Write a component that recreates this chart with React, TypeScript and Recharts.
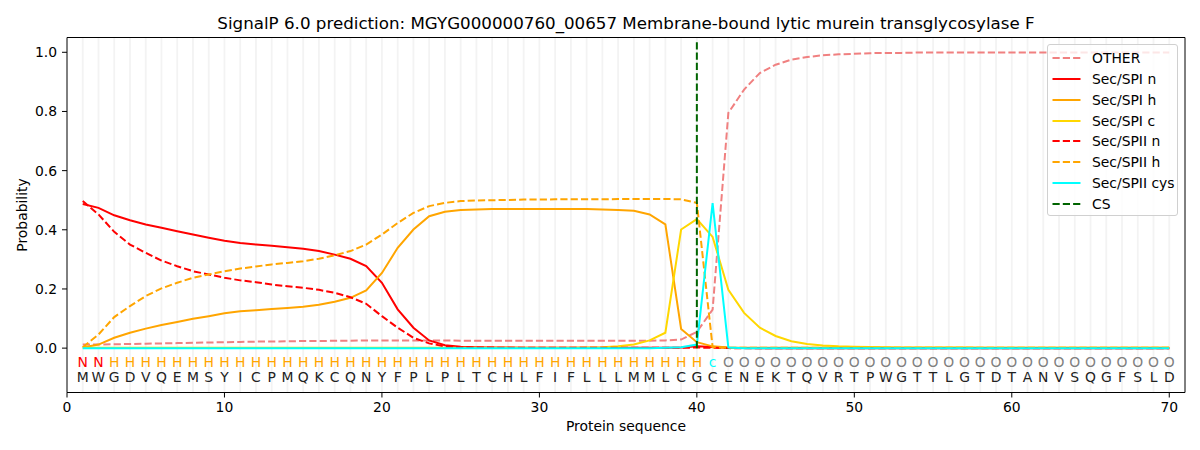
import React from 'react';
import {
  ComposedChart,
  Line,
  XAxis,
  YAxis,
  ReferenceLine,
  Scatter,
} from 'recharts';

const sequence = 'MWGDVQEMSYICPMQKCQNYFPLPLTCHLFIFLLLMMLCGCENEKTQVRTPWGTTLGTDTANVSQGFSLD'.split('');
const regionLabels = 'NNHHHHHHHHHHHHHHHHHHHHHHHHHHHHHHHHHHHHHHcOOOOOOOOOOOOOOOOOOOOOOOOOOOOO'.split('');

const otherVals = [
  0.012, 0.012, 0.013, 0.014, 0.015, 0.016, 0.017, 0.018, 0.019, 0.02,
  0.021, 0.022, 0.022, 0.023, 0.024, 0.024, 0.025, 0.025, 0.026, 0.026,
  0.026, 0.026, 0.026, 0.026, 0.025, 0.025, 0.025, 0.025, 0.025, 0.025,
  0.025, 0.025, 0.025, 0.025, 0.025, 0.025, 0.025, 0.026, 0.029, 0.055,
  0.13, 0.795, 0.874, 0.93, 0.958, 0.975, 0.984, 0.99, 0.993, 0.995,
  0.997, 0.998, 0.998, 0.999, 0.999, 0.999, 0.999, 0.999, 0.999, 0.999,
  0.999, 0.999, 0.999, 0.999, 0.999, 0.999, 0.999, 0.999, 0.999, 0.999,
];
const spiN = [
  0.487, 0.474, 0.449, 0.432, 0.418, 0.407, 0.395, 0.384, 0.373, 0.363,
  0.355, 0.35, 0.346, 0.341, 0.336, 0.328, 0.316, 0.302, 0.277, 0.221,
  0.131, 0.069, 0.026, 0.01, 0.005, 0.003, 0.002, 0.002, 0.001, 0.001,
  0.001, 0.001, 0.001, 0.001, 0.001, 0.001, 0.001, 0.001, 0.002, 0.006,
  0.004, 0.001, 0, 0, 0, 0, 0, 0, 0, 0,
  0, 0, 0, 0, 0, 0, 0, 0, 0, 0,
  0, 0, 0, 0, 0, 0, 0, 0, 0, 0,
];
const spiH = [
  0.002, 0.012, 0.035, 0.052, 0.066, 0.078, 0.088, 0.099, 0.108, 0.118,
  0.125, 0.128, 0.132, 0.136, 0.14, 0.147, 0.157, 0.17, 0.195, 0.254,
  0.339, 0.401, 0.446, 0.461, 0.467, 0.469, 0.47, 0.47, 0.47, 0.47,
  0.47, 0.47, 0.47, 0.469, 0.467, 0.464, 0.452, 0.418, 0.065, 0.02,
  0.006, 0.002, 0.001, 0.001, 0.001, 0.001, 0.001, 0.001, 0.001, 0.001,
  0.001, 0.001, 0.001, 0.001, 0.001, 0.001, 0.001, 0.001, 0.001, 0.001,
  0.001, 0.001, 0.001, 0.001, 0.001, 0.001, 0.001, 0.001, 0.001, 0.001,
];
const spiC = [
  0.001, 0.001, 0.001, 0.001, 0.001, 0.001, 0.001, 0.001, 0.001, 0.001,
  0.001, 0.001, 0.001, 0.001, 0.001, 0.001, 0.001, 0.001, 0.001, 0.001,
  0.001, 0.001, 0.001, 0.001, 0.001, 0.001, 0.001, 0.001, 0.001, 0.001,
  0.001, 0.001, 0.002, 0.003, 0.006, 0.012, 0.026, 0.052, 0.401, 0.436,
  0.376, 0.197, 0.119, 0.069, 0.041, 0.023, 0.014, 0.009, 0.006, 0.005,
  0.004, 0.003, 0.002, 0.002, 0.002, 0.002, 0.002, 0.001, 0.001, 0.001,
  0.001, 0.001, 0.001, 0.001, 0.001, 0.001, 0.001, 0.001, 0.001, 0.001,
];
const spiiN = [
  0.497, 0.452, 0.393, 0.35, 0.322, 0.296, 0.277, 0.26, 0.249, 0.238,
  0.229, 0.223, 0.215, 0.209, 0.204, 0.197, 0.187, 0.172, 0.15, 0.108,
  0.069, 0.035, 0.016, 0.006, 0.003, 0.002, 0.002, 0.001, 0.001, 0.001,
  0.001, 0.001, 0.001, 0.001, 0.001, 0.001, 0.001, 0.001, 0.001, 0.002,
  0.001, 0, 0, 0, 0, 0, 0, 0, 0, 0,
  0, 0, 0, 0, 0, 0, 0, 0, 0, 0,
  0, 0, 0, 0, 0, 0, 0, 0, 0, 0,
];
const spiiH = [
  0.003, 0.046, 0.105, 0.142, 0.176, 0.202, 0.221, 0.238, 0.249, 0.26,
  0.269, 0.276, 0.283, 0.288, 0.294, 0.302, 0.314, 0.328, 0.35, 0.384,
  0.423, 0.457, 0.48, 0.491, 0.497, 0.499, 0.5, 0.501, 0.502, 0.502,
  0.503, 0.503, 0.503, 0.503, 0.504, 0.504, 0.504, 0.504, 0.503, 0.491,
  0.003, 0.001, 0.001, 0.001, 0.001, 0.001, 0.001, 0.001, 0.001, 0.001,
  0.001, 0.001, 0.001, 0.001, 0.001, 0.001, 0.001, 0.001, 0.001, 0.001,
  0.001, 0.001, 0.001, 0.001, 0.001, 0.001, 0.001, 0.001, 0.001, 0.001,
];
const spiiCys = [
  0, 0, 0, 0, 0, 0, 0, 0, 0, 0,
  0, 0, 0, 0, 0, 0, 0, 0, 0, 0,
  0, 0, 0, 0, 0, 0, 0, 0, 0, 0,
  0, 0, 0, 0, 0, 0, 0, 0.001, 0.003, 0.012,
  0.49, 0.002, 0, 0, 0, 0, 0, 0, 0, 0,
  0, 0, 0, 0, 0, 0, 0, 0, 0, 0,
  0, 0, 0, 0, 0, 0, 0, 0, 0, 0,
];
const csPosition = 40;
const xTicks = [0, 10, 20, 30, 40, 50, 60, 70];
const yTicks = [0, 0.2, 0.4, 0.6, 0.8, 1.0];

const rows = sequence.map((aa, i) => ({
  pos: i + 1,
  other: otherVals[i],
  spiN: spiN[i],
  spiH: spiH[i],
  spiC: spiC[i],
  spiiN: spiiN[i],
  spiiH: spiiH[i],
  spiiCys: spiiCys[i],
}));

const SEQ_Y = -0.097;
const LAB_Y = -0.048;
const seqPoints = sequence.map((aa, i) => ({ pos: i + 1, y: SEQ_Y, t: aa }));
const labPoints = regionLabels.map((l, i) => ({ pos: i + 1, y: LAB_Y, t: l }));

const labelColor: Record<string, string> = {
  N: '#ff0000',
  H: '#ffa500',
  c: '#00ffff',
  O: '#808080',
};

const FONT = 'DejaVu Sans, sans-serif';
const FS = 13.9;
const DASH = '7.2 3.1';

const series = [
  { key: 'other', name: 'OTHER', color: '#f08080', dash: DASH },
  { key: 'spiN', name: 'Sec/SPI n', color: '#ff0000', dash: undefined },
  { key: 'spiH', name: 'Sec/SPI h', color: '#ffa500', dash: undefined },
  { key: 'spiC', name: 'Sec/SPI c', color: '#ffd700', dash: undefined },
  { key: 'spiiN', name: 'Sec/SPII n', color: '#ff0000', dash: DASH },
  { key: 'spiiH', name: 'Sec/SPII h', color: '#ffa500', dash: DASH },
  { key: 'spiiCys', name: 'Sec/SPII cys', color: '#00ffff', dash: undefined },
];
const legendItems = [...series.map((s) => ({ name: s.name, color: s.color, dash: s.dash })), { name: 'CS', color: '#006400', dash: DASH }];

const gridPositions = sequence.map((_, i) => i + 1);

const SeqText = (props: any) => {
  const { cx, cy, payload } = props;
  return (
    <text x={cx} y={cy} textAnchor="middle" dominantBaseline="central" fontFamily={FONT} fontSize={FS} fill="#222">
      {payload.t}
    </text>
  );
};
const LabText = (props: any) => {
  const { cx, cy, payload } = props;
  return (
    <text x={cx} y={cy} textAnchor="middle" dominantBaseline="central" fontFamily={FONT} fontSize={FS} fill={labelColor[payload.t]}>
      {payload.t}
    </text>
  );
};

export default function App() {
  return (
    <div style={{ position: 'absolute', left: 0, top: 0, width: 1200, height: 450, background: '#fff', fontFamily: FONT }}>
      <div
        style={{
          position: 'absolute',
          left: 0,
          width: 1252,
          top: 15.4,
          textAlign: 'center',
          fontSize: 16.7,
          lineHeight: '16.7px',
          color: '#000',
          whiteSpace: 'nowrap',
        }}
      >
        SignalP 6.0 prediction: MGYG000000760_00657 Membrane-bound lytic murein transglycosylase F
      </div>
      <ComposedChart
        width={1200}
        height={450}
        data={rows}
        margin={{ top: 37.5, right: 15, bottom: 28.5, left: 17 }}
        style={{ position: 'absolute', left: 0, top: 0 }}
      >
        {gridPositions.map((p) => (
          <ReferenceLine key={'g' + p} x={p} stroke="#f3f3f3" strokeWidth={1.8} />
        ))}
        <XAxis
          dataKey="pos"
          type="number"
          domain={[0, 71]}
          ticks={xTicks}
          allowDataOverflow
          height={29}
          stroke="#000"
          tickSize={5}
          tickMargin={5}
          tick={{ fill: '#000', fontSize: FS, fontFamily: FONT }}
          tickLine={{ stroke: '#000' }}
          label={{ value: 'Protein sequence', position: 'bottom', offset: 0, fill: '#000', fontSize: FS, fontFamily: FONT }}
        />
        <YAxis
          type="number"
          domain={[-0.15, 1.05]}
          ticks={yTicks}
          allowDataOverflow
          width={50}
          stroke="#000"
          tickSize={5}
          tickMargin={5}
          tickFormatter={(v: number) => v.toFixed(1)}
          tick={{ fill: '#000', fontSize: FS, fontFamily: FONT }}
          tickLine={{ stroke: '#000' }}
          label={{ value: 'Probability', angle: -90, position: 'center', dx: -20.3, fill: '#000', fontSize: FS, fontFamily: FONT }}
        />
        <ReferenceLine y={1.05} stroke="#000" strokeWidth={1} />
        <ReferenceLine x={71} stroke="#000" strokeWidth={1} />
        {series.map((s) => (
          <Line
            key={s.key}
            dataKey={s.key}
            name={s.name}
            type="linear"
            stroke={s.color}
            strokeWidth={2}
            strokeDasharray={s.dash}
            dot={false}
            activeDot={false}
            isAnimationActive={false}
          />
        ))}
        <ReferenceLine
          segment={[
            { x: csPosition, y: 0 },
            { x: csPosition, y: 1.04 },
          ]}
          stroke="#006400"
          strokeWidth={2}
          strokeDasharray={DASH}
        />
        <Scatter data={labPoints} dataKey="y" shape={LabText} isAnimationActive={false} />
        <Scatter data={seqPoints} dataKey="y" shape={SeqText} isAnimationActive={false} />
      </ComposedChart>
      <div
        style={{
          position: 'absolute',
          left: 1047,
          top: 44,
          width: 129,
          height: 170,
          border: '1px solid #d0d0d0',
          borderRadius: 3,
          background: 'rgba(255,255,255,0.8)',
        }}
      >
        {legendItems.map((it, i) => (
          <div
            key={it.name}
            style={{ position: 'absolute', left: 0, top: 3 + i * 20.85, height: 20, width: 129, display: 'flex', alignItems: 'center' }}
          >
            <svg width={40} height={20} style={{ display: 'block' }}>
              <line x1={4.5} x2={32.5} y1={10} y2={10} stroke={it.color} strokeWidth={2} strokeDasharray={it.dash} />
            </svg>
            <span style={{ fontSize: FS, color: '#000', marginLeft: 4, whiteSpace: 'nowrap' }}>{it.name}</span>
          </div>
        ))}
      </div>
    </div>
  );
}
